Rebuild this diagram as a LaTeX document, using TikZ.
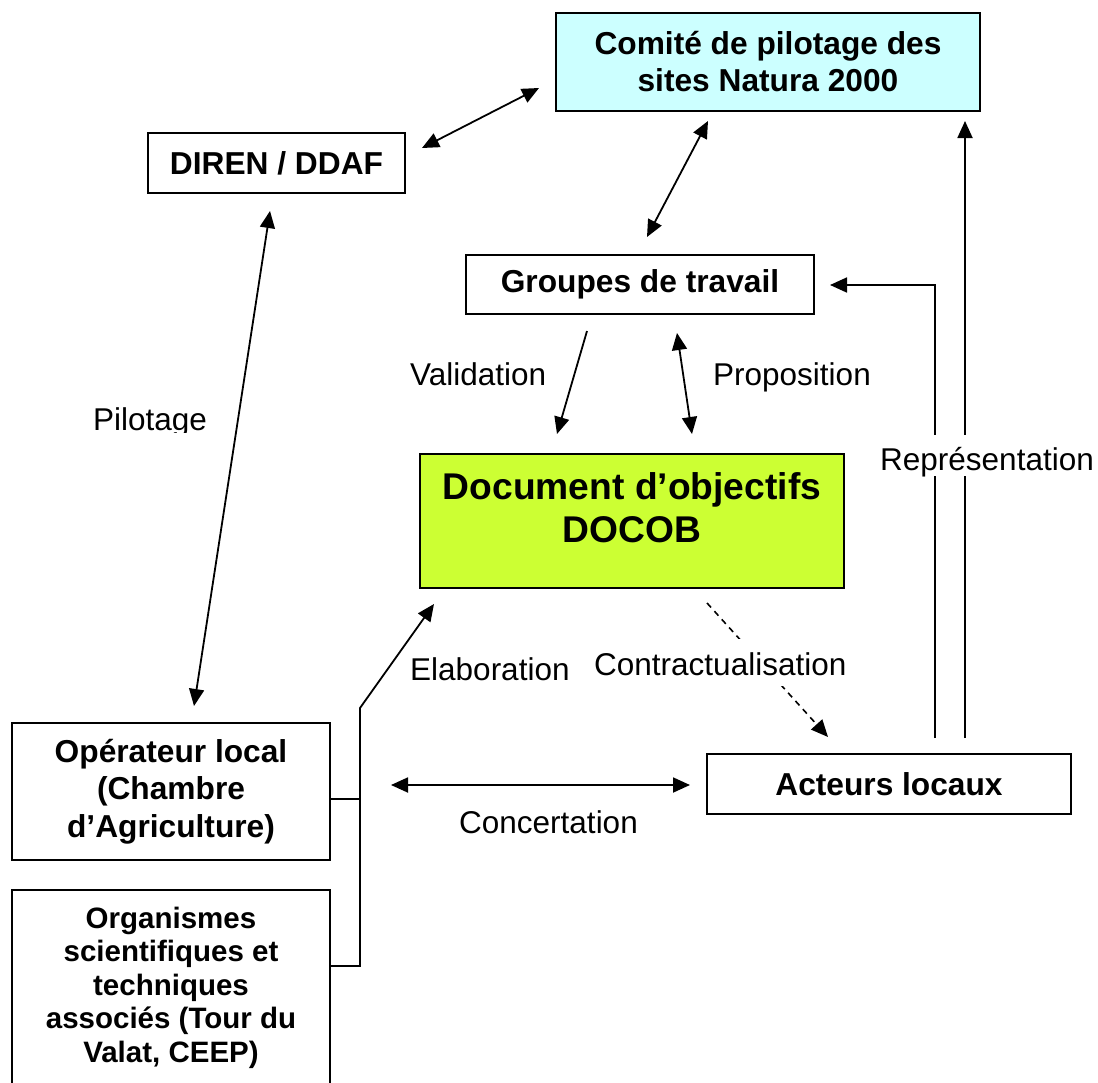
\documentclass[tikz,border=0pt]{standalone}
\usepackage{fontspec}
\setmainfont{Liberation Sans}
\usetikzlibrary{arrows.meta}
\definecolor{cyanfill}{RGB}{204,255,255}
\definecolor{docfill}{RGB}{204,255,51}
\begin{document}
\begin{tikzpicture}[x=1pt,y=-1pt,
  box/.style={draw=black, line width=2pt, inner sep=0pt, align=center,
    font=\bfseries\fontsize{31.7}{37}\selectfont},
  conn/.style={line width=1.8pt, -{Triangle[length=17pt,width=15pt]}},
  dconn/.style={line width=1.8pt, {Triangle[length=17pt,width=15pt]}-{Triangle[length=17pt,width=15pt]}},
  plain/.style={line width=1.8pt},
  dashconn/.style={line width=1.6pt, dash pattern=on 6pt off 5pt, -{Triangle[length=17pt,width=15pt]}},
  lbl/.style={inner sep=0pt, font=\fontsize{31.5}{37}\selectfont, anchor=base west},
]
\fill[white] (0,0) rectangle (1098,1082);
\useasboundingbox (0,0) rectangle (1098,1082);

% boxes
\node[box, fill=cyanfill, minimum width=424pt, minimum height=98pt] (comite) at (768,62) {Comité de pilotage des\\sites Natura 2000};
\node[box, minimum width=257pt, minimum height=60pt] (diren) at (276.5,163) {DIREN / DDAF};
\node[box, minimum width=348pt, minimum height=59pt] (groupes) at (640,284.5) {Groupes de travail};
\node[box, fill=docfill, minimum width=424pt, minimum height=134pt] (doc) at (632,521) {};
\node[font=\bfseries\fontsize{37.2}{43}\selectfont, align=center, inner sep=0pt] (doctext) at (632,508) {Document d’objectifs\\DOCOB};
\node[box, minimum width=318pt, minimum height=137pt, font=\bfseries\fontsize{31.7}{37.5}\selectfont] (opera) at (171,791.5) {Opérateur local\\(Chambre\\d’Agriculture)};
\node[box, minimum width=318pt, minimum height=195pt, font=\bfseries\fontsize{29.5}{33.5}\selectfont] (organ) at (171,987.5) {Organismes\\scientifiques et\\techniques\\associés (Tour du\\Valat, CEEP)};
\node[box, minimum width=364pt, minimum height=60pt] (acteurs) at (889,784) {Acteurs locaux};

% connectors
\draw[dconn] ([shift={(16,-15)}]diren.east) -- ([shift={(-16,26)}]comite.west);
\draw[dconn] ([shift={(-60,9)}]comite.south) -- ([shift={(7,-17)}]groupes.north);
\draw[dconn] ([shift={(-6.5,17)}]diren.south) -- ([shift={(23,-16)}]opera.north);
\draw[conn] ([shift={(-53,16)}]groupes.south) -- ([shift={(-75,-19)}]doc.north);
\draw[dconn] ([shift={(37,18)}]groupes.south) -- ([shift={(60,-19)}]doc.north);
\draw[conn] ([shift={(46,-15)}]acteurs.north) |- ([shift={(15,0.5)}]groupes.east);
\coordinate (upstart) at ([shift={(76,-15)}]acteurs.north);
\coordinate (upend) at ([shift={(0,9)}]comite.south);
\draw[conn] (upstart) -- (upstart |- upend);
\draw[dashconn] ([shift={(75,14)}]doc.south) -- ([shift={(-61,-16)}]acteurs.north);
\coordinate (bend) at (360,708);
\draw[plain] ([shift={(0,7.5)}]opera.east) -- +(30,0);
\draw[conn] ([shift={(0,-21.5)}]organ.east) -| (bend) -- ([shift={(15,15)}]doc.south west);
\draw[dconn] ([shift={(60,-6.5)}]opera.east) -- ([shift={(-16,1)}]acteurs.west);

% labels
\begin{scope}
\clip (80,390) rectangle (230,432.5);
\node[lbl] (pil) at (93,430) {Pilotage};
\end{scope}
\node[lbl] (val) at (410,385) {Validation};
\node[lbl] (prop) at (713,385) {Proposition};
\node[lbl, fill=white, text height=35pt, text depth=6pt] (rep) at (880,470) {Représentation};
\node[lbl] (elab) at (410,680) {Elaboration};
\node[lbl, fill=white, text height=36pt, text depth=11pt] (contr) at (594,675) {Contractualisation};
\node[lbl] (conc) at (459,833) {Concertation};
\end{tikzpicture}
\end{document}
